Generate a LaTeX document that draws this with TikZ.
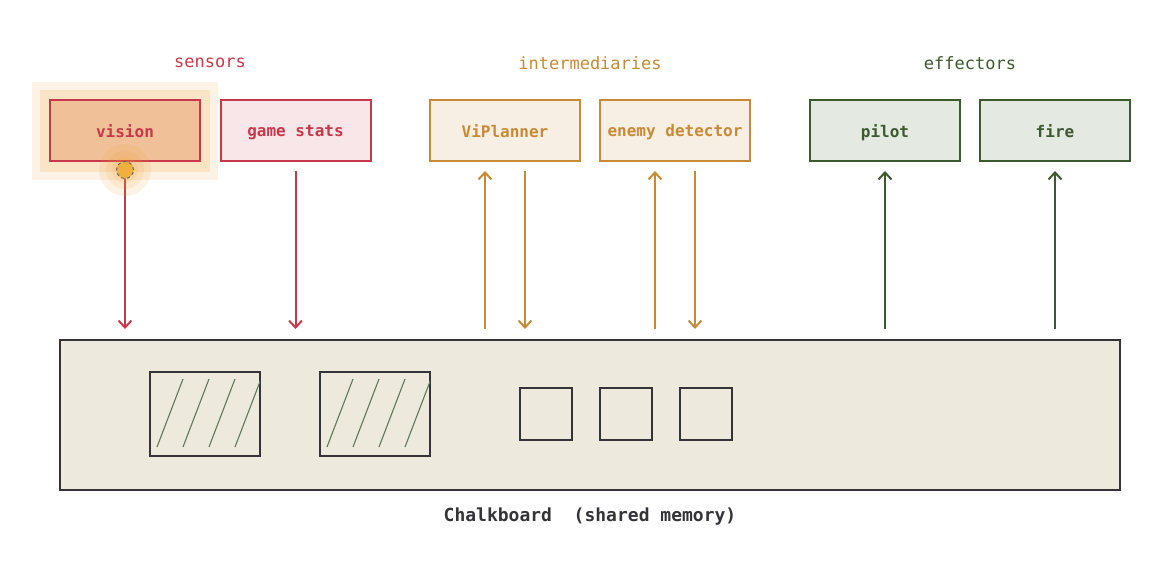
\documentclass[tikz,border=0pt]{standalone}
\usepackage{fontspec}
\newfontfamily\mono{DejaVu Sans Mono}
\usetikzlibrary{arrows.meta,calc}
\definecolor{sred}{HTML}{C8374A}
\definecolor{sorange}{HTML}{C98A35}
\definecolor{sgreen}{HTML}{3D5A2E}
\definecolor{sdark}{HTML}{333338}
\definecolor{fred}{HTML}{F8E6E8}
\definecolor{fvision}{HTML}{F0C198}
\definecolor{forange}{HTML}{F8EFE4}
\definecolor{fgreen}{HTML}{E4E9E2}
\definecolor{fboard}{HTML}{EDE9DD}
\definecolor{hatch}{HTML}{5E7A58}
\definecolor{glowA}{HTML}{FCF3E6}
\definecolor{glowB}{HTML}{FAE4C6}
\definecolor{glowC}{HTML}{F0A030}
\definecolor{dotfill}{HTML}{F0B040}
\tikzset{
  lbl/.style={font=\mono\fontsize{17}{20}\selectfont},
  mod/.style={draw, line width=2pt, minimum width=150pt, minimum height=61pt, inner sep=0pt, text depth=0pt, font=\mono\bfseries\fontsize{16}{19}\selectfont},
  redmod/.style={mod, draw=sred, fill=fred, text=sred},
  orgmod/.style={mod, draw=sorange, fill=forange, text=sorange},
  grnmod/.style={mod, draw=sgreen, fill=fgreen, text=sgreen},
  arr/.style={line width=2pt, -{Straight Barb[length=7pt,width=13pt,line width=2pt]}},
  slot/.style={draw=sdark, line width=2pt, fill=fboard, inner sep=0pt},
  glow/.style={fill=glowC, fill opacity=0.13},
}
\begin{document}
\begin{tikzpicture}[x=1pt,y=-1pt]
\useasboundingbox (0,0) rectangle (1170,560);
% glow around vision
\fill[glowA] (32,82) rectangle (218,180);
\fill[glowB] (40,90) rectangle (210,172);
\node[redmod, fill=fvision] (vision) at (125,130.5) {vision};
\node[redmod] (gamestats) at (295.5,130.5) {game stats};
\node[orgmod] (viplanner) at (505,130.5) {ViPlanner};
\node[orgmod] (enemy) at (675,130.5) {enemy detector};
\node[grnmod] (pilot) at (885,130.5) {pilot};
\node[grnmod] (fire) at (1055,130.5) {fire};
% group labels
\node[lbl, text=sred] (sensors) at (210,63) {sensors};
\node[lbl, text=sorange] (inter) at (590,63) {intermediaries};
\node[lbl, text=sgreen] (effect) at (970,63) {effectors};
% chalkboard
\node[draw=sdark, line width=2pt, fill=fboard, minimum width=1060pt, minimum height=150pt, inner sep=0pt] (board) at (590,415) {};
\node[font=\mono\bfseries\fontsize{18}{21}\selectfont, text=sdark] (boardlbl) at (590,517) {Chalkboard\ \ (shared memory)};
% slots
\node[slot, minimum width=110pt, minimum height=84pt] (s1) at (205,414) {};
\node[slot, minimum width=110pt, minimum height=84pt] (s2) at (375,414) {};
\foreach \b in {s1,s2}{
  \begin{scope}
    \clip ($(\b.north west)+(1,1)$) rectangle ($(\b.south east)+(-1,-1)$);
    \foreach \k in {0,1,2,3}{
      \draw[hatch, line width=1.1pt] ($(\b.north west)+(8+26*\k,76)$) -- ($(\b.north west)+(34+26*\k,8)$);
    }
  \end{scope}
}
\node[slot, minimum size=52pt] (q1) at (546,414) {};
\node[slot, minimum size=52pt] (q2) at (626,414) {};
\node[slot, minimum size=52pt] (q3) at (706,414) {};
% connectors
\coordinate (vp1) at ($(viplanner.south)+(-20,0)$);
\coordinate (vp2) at ($(viplanner.south)+(20,0)$);
\coordinate (en1) at ($(enemy.south)+(-20,0)$);
\coordinate (en2) at ($(enemy.south)+(20,0)$);
% vision dot
\coordinate (dotc) at ($(vision.south)+(0,8)$);
\draw[arr, draw=sred, shorten >=10pt] (dotc) -- (dotc |- board.north);
\fill[glow] (dotc) circle (26pt);
\fill[glow] (dotc) circle (19pt);
\fill[glow] (dotc) circle (13pt);
\node[circle, fill=dotfill, draw=sdark!80, dashed, line width=0.9pt, minimum size=17pt, inner sep=0pt] (dot) at (dotc) {};
\draw[arr, draw=sred, shorten <=9pt, shorten >=10pt] (gamestats.south) -- (gamestats.south |- board.north);
\draw[arr, draw=sorange, shorten <=10pt, shorten >=9pt] (vp1 |- board.north) -- (vp1);
\draw[arr, draw=sorange, shorten <=9pt, shorten >=10pt] (vp2) -- (vp2 |- board.north);
\draw[arr, draw=sorange, shorten <=10pt, shorten >=9pt] (en1 |- board.north) -- (en1);
\draw[arr, draw=sorange, shorten <=9pt, shorten >=10pt] (en2) -- (en2 |- board.north);
\draw[arr, draw=sgreen, shorten <=10pt, shorten >=9pt] (board.north -| pilot.south) -- (pilot.south);
\draw[arr, draw=sgreen, shorten <=10pt, shorten >=9pt] (board.north -| fire.south) -- (fire.south);
\end{tikzpicture}
\end{document}
